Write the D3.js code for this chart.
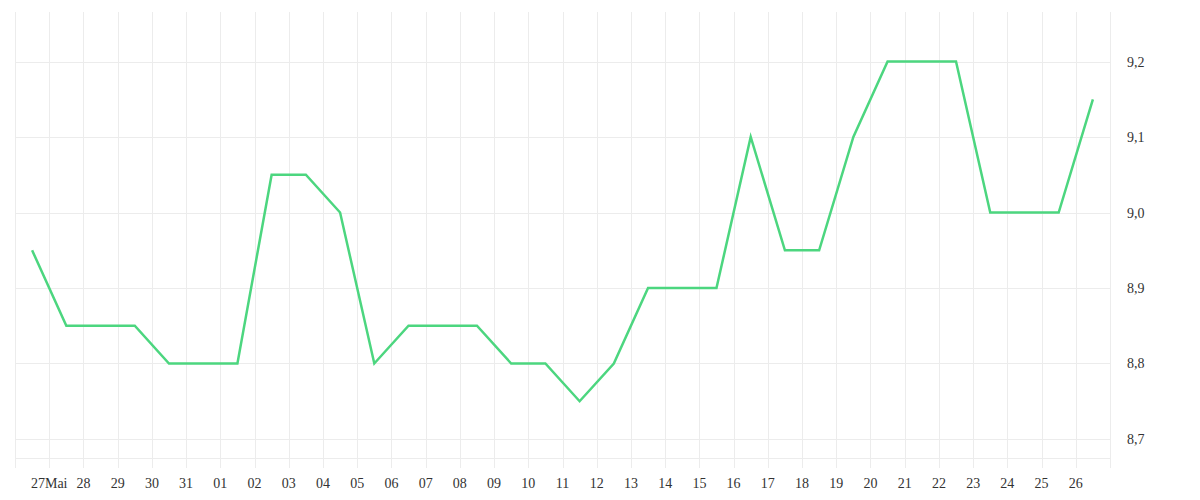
<!DOCTYPE html>
<html>
<head>
<meta charset="utf-8">
<script src="https://cdn.jsdelivr.net/npm/d3@7"></script>
<style>
html,body{margin:0;padding:0;background:#fff;}
svg{display:block;}
</style>
</head>
<body>
<svg id="chart" width="1200" height="500"></svg>
<script>
const dates = ["2024-05-26","2024-05-27","2024-05-28","2024-05-29","2024-05-30","2024-05-31",
"2024-06-01","2024-06-02","2024-06-03","2024-06-04","2024-06-05","2024-06-06","2024-06-07",
"2024-06-08","2024-06-09","2024-06-10","2024-06-11","2024-06-12","2024-06-13","2024-06-14",
"2024-06-15","2024-06-16","2024-06-17","2024-06-18","2024-06-19","2024-06-20","2024-06-21",
"2024-06-22","2024-06-23","2024-06-24","2024-06-25","2024-06-26"];
const values = [8.95,8.85,8.85,8.85,8.8,8.8,8.8,9.05,9.05,9.0,8.8,8.85,8.85,8.85,8.8,8.8,8.75,8.8,
8.9,8.9,8.9,9.1,8.95,8.95,9.1,9.2,9.2,9.2,9.0,9.0,9.0,9.15];
const yTicks = [8.7,8.8,8.9,9.0,9.1,9.2];
const yTickLabels = ["8,7","8,8","8,9","9,0","9,1","9,2"];

(function(){
const svg = d3.select("#chart");
const mLeft = 15, mRight = 1110, mTop = 12, mBottom = 458;
const parse = d3.timeParse("%Y-%m-%d");
const data = dates.map((d,i)=>({date: d3.timeHour.offset(parse(d),12), value: values[i]}));

const x = d3.scaleTime().domain([parse("2024-05-26"), parse("2024-06-27")]).range([mLeft,mRight]);
const y = d3.scaleLinear().domain([8.6748, 9.2656]).range([mBottom, mTop]);

const dayTicks = d3.timeDay.range(parse("2024-05-26"), d3.timeDay.offset(parse("2024-06-27"),1));
const grid = svg.append("g");
grid.selectAll("line.v").data(dayTicks).enter().append("line")
  .attr("x1", d=>Math.round(x(d))+0.5).attr("x2", d=>Math.round(x(d))+0.5)
  .attr("y1", mTop).attr("y2", mBottom+10)
  .attr("stroke","#ececec").attr("stroke-width",1);
grid.selectAll("line.h").data(yTicks).enter().append("line")
  .attr("x1", mLeft).attr("x2", mRight)
  .attr("y1", d=>Math.round(y(d))+0.5).attr("y2", d=>Math.round(y(d))+0.5)
  .attr("stroke","#ececec").attr("stroke-width",1);
grid.append("line").attr("x1",mLeft).attr("x2",mRight)
  .attr("y1",mBottom+0.5).attr("y2",mBottom+0.5).attr("stroke","#ececec");

const labelTicks = dayTicks.filter(d => d > parse("2024-05-26") && d < parse("2024-06-27"));
const fmt = d => (d.getDate()===27 && d.getMonth()===4) ? "27Mai" : d3.timeFormat("%d")(d);
svg.append("g").selectAll("text").data(labelTicks).enter().append("text")
  .attr("x", d=>x(d)).attr("y", 488)
  .attr("text-anchor","middle")
  .attr("font-family","'Liberation Serif', serif").attr("font-size",14)
  .attr("fill","#333")
  .text(fmt);

svg.append("g").selectAll("text").data(yTicks).enter().append("text")
  .attr("x", 1127).attr("y", d=>y(d)+5)
  .attr("font-family","'Liberation Serif', serif").attr("font-size",14)
  .attr("fill","#333")
  .text((d,i)=>yTickLabels[i]);

const line = d3.line().x(d=>x(d.date)).y(d=>y(d.value));
svg.append("path").datum(data)
  .attr("d", line).attr("fill","none")
  .attr("stroke","#4cd67f").attr("stroke-width",2.5)
  .attr("stroke-linejoin","miter");
})();
</script>
</body>
</html>
